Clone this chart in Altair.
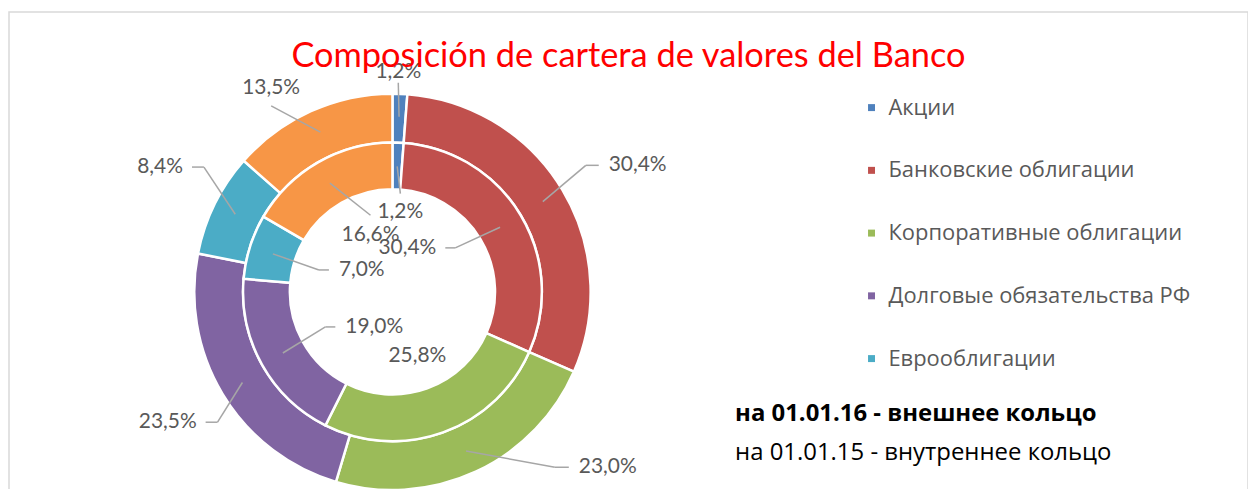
import altair as alt
import pandas as pd

# ---------------- data ----------------
categories = ["Акции", "Банковские облигации", "Корпоративные облигации",
              "Долговые обязательства РФ", "Еврооблигации", "Прочие"]
outer_2016 = [1.2, 30.4, 23.0, 23.5, 8.4, 13.5]   # на 01.01.16 - внешнее кольцо
inner_2015 = [1.2, 30.4, 25.8, 19.0, 7.0, 16.6]   # на 01.01.15 - внутреннее кольцо
legend_items = categories[:5]
title_text = "Composición de cartera de valores del Banco"
note_outer = "на 01.01.16 - внешнее кольцо"
note_inner = "на 01.01.15 - внутреннее кольцо"

# ---------------- style / layout ----------------
colors = ["#4F81BD", "#C0504D", "#9BBB59", "#8064A2", "#4BACC6", "#F79646"]
FONT = "Lato"
FONT_CYR = "Open Sans"
W, H = 1244, 495          # view size (bottom edge falls outside the window)
CX, CY = 385, 281         # donut centre inside the view
R_OUT = (150, 199)
R_IN = (103, 150)
LEAD_START = {"outer": 176, "inner": 126}
# label leader-line end: angle (deg), radius (px), horizontal elbow (px), mode, extra dy
lab_outer = [(1.6, 210, 0, "center", 11), (56.8, 232, 13, "left", 0),
             (137.2, 240, 14, "left", 0), (233.3, 219, -12, "right", 0),
             (303.5, 227, -12, "right", 0), (326.9, 223, 0, "center", 18)]
lab_inner = [(4.6, 99, 0, "center", -19), (55.0, 77, -10, "right", 0),
             (158.7, 69, 0, "free", 0), (242.4, 76, 10, "left", 0),
             (286.6, 77, 10, "left", 0), (344.0, 80, 0, "center", -20)]

rows = []
for ring, vals, lay in (("outer", outer_2016, lab_outer), ("inner", inner_2015, lab_inner)):
    for i, (c, v) in enumerate(zip(categories, vals)):
        a, r, e, m, d = lay[i]
        rows.append(dict(ring=ring, category=c, idx=i, value=v,
                         r0=LEAD_START[ring], end_deg=a, end_r=r, elbow=e,
                         mode=m, ldy=d))
df = pd.DataFrame(rows)

xs = alt.Scale(domain=[-CX, W - CX], zero=False, nice=False)
ys = alt.Scale(domain=[-(H - CY), CY], zero=False, nice=False)

color = alt.Color("category:N",
                  scale=alt.Scale(domain=categories, range=colors),
                  legend=alt.Legend(values=legend_items, title=None, orient="none",
                                    legendX=855, legendY=85, symbolType="square",
                                    symbolSize=49, symbolStrokeWidth=0,
                                    labelFont=FONT_CYR, labelFontSize=22,
                                    labelColor="#595959", labelOffset=6,
                                    rowPadding=41, padding=0, labelLimit=400))


def ring_layer(ring, rr):
    return (alt.Chart(df).transform_filter(alt.datum.ring == ring)
            .mark_arc(radius=rr[1], radius2=rr[0], stroke="white", strokeWidth=2.5)
            .encode(theta=alt.Theta("value:Q", stack=True),
                    color=color, order=alt.Order("idx:Q"),
                    x=alt.value(CX), y=alt.value(CY)))


base = (alt.Chart(df)
        .transform_joinaggregate(total="sum(value)", groupby=["ring"])
        .transform_window(cum="sum(value)", sort=[alt.SortField("idx")],
                          groupby=["ring"], frame=[None, 0])
        .transform_calculate(
            mid="(datum.cum - datum.value/2) / datum.total * 2 * PI",
            sx="datum.r0 * sin(datum.mid)",
            sy="datum.r0 * cos(datum.mid)",
            ea="datum.end_deg * PI / 180",
            ex="datum.end_r * sin(datum.ea)",
            ey="datum.end_r * cos(datum.ea)",
            fx="datum.ex + datum.elbow",
            lx="datum.mode == 'left' ? datum.ex + datum.elbow + 10 : "
               "(datum.mode == 'right' ? datum.ex + datum.elbow - 9 : datum.ex)",
            ly="datum.ey + datum.ldy",
            label="replace(format(datum.value, '.1f'), '.', ',') + '%'"))

lead = dict(color="#A6A6A6", strokeWidth=1.5)
rule1 = base.transform_filter(alt.datum.mode != "free").mark_rule(**lead).encode(
    x=alt.X("sx:Q", scale=xs, axis=None), y=alt.Y("sy:Q", scale=ys, axis=None),
    x2="ex:Q", y2="ey:Q")
rule2 = base.transform_filter(alt.datum.elbow != 0).mark_rule(**lead).encode(
    x=alt.X("ex:Q", scale=xs, axis=None), y=alt.Y("ey:Q", scale=ys, axis=None),
    x2="fx:Q", y2="ey:Q")


def text_layer(modes, align):
    return (base.transform_filter(alt.FieldOneOfPredicate(field="mode", oneOf=modes))
            .mark_text(align=align, baseline="middle", font=FONT, fontSize=21,
                       color="#595959")
            .encode(x=alt.X("lx:Q", scale=xs, axis=None),
                    y=alt.Y("ly:Q", scale=ys, axis=None), text="label:N"))


notes = pd.DataFrame({"t": [note_outer]})
notes2 = pd.DataFrame({"t": [note_inner]})
note1 = alt.Chart(notes).mark_text(align="left", baseline="middle", font=FONT_CYR,
                                   fontSize=24, fontWeight="bold", color="black").encode(
    x=alt.value(729), y=alt.value(404), text="t:N")
note2 = alt.Chart(notes2).mark_text(align="left", baseline="middle", font=FONT_CYR,
                                    fontSize=24, color="black").encode(
    x=alt.value(729), y=alt.value(443), text="t:N")

chart = (alt.layer(ring_layer("outer", R_OUT), ring_layer("inner", R_IN),
                   rule1, rule2,
                   text_layer(["left"], "left"), text_layer(["right"], "right"),
                   text_layer(["center", "free"], "center"),
                   note1, note2)
         .properties(width=W, height=H,
                     title=alt.Title(title_text, font=FONT, fontSize=34.5, color="#FF0000",
                                     fontWeight="normal", anchor="middle", dy=67),
                     autosize=alt.AutoSizeParams(type="none"),
                     padding={"left": 1, "top": 3, "right": 0, "bottom": 0})
         .configure_view(stroke="#D9D9D9", strokeWidth=1.5))

chart.save("out.html", embed_options={"renderer": "svg", "actions": False})
